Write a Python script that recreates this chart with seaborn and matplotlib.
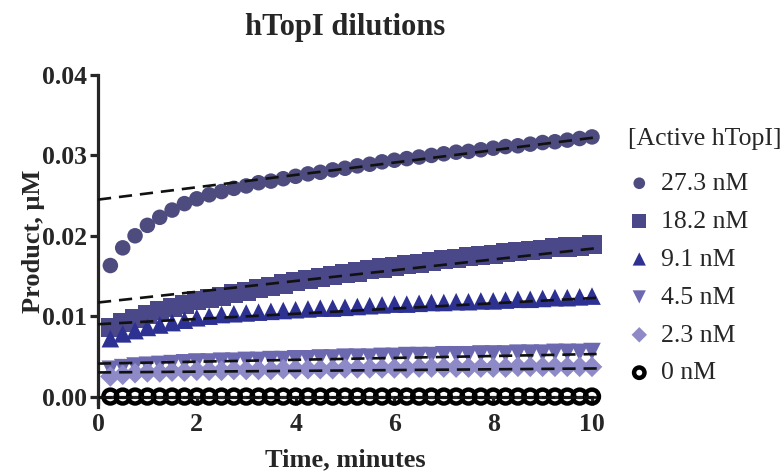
import matplotlib
matplotlib.use("Agg")
import matplotlib.pyplot as plt
import seaborn as sns
import pandas as pd

# --- DATA ---
time_min = [0.25, 0.5, 0.75, 1.0, 1.25, 1.5, 1.75, 2.0, 2.25, 2.5,
            2.75, 3.0, 3.25, 3.5, 3.75, 4.0, 4.25, 4.5, 4.75, 5.0,
            5.25, 5.5, 5.75, 6.0, 6.25, 6.5, 6.75, 7.0, 7.25, 7.5,
            7.75, 8.0, 8.25, 8.5, 8.75, 9.0, 9.25, 9.5, 9.75, 10.0]

conc_labels = ["27.3 nM", "18.2 nM", "9.1 nM", "4.5 nM", "2.3 nM", "0 nM"]

prod_27 = [0.0163, 0.0185, 0.0200, 0.0213, 0.0223, 0.0232, 0.0240, 0.0246, 0.0251, 0.0255,
           0.0259, 0.0262, 0.0266, 0.0268, 0.0271, 0.0274, 0.0277, 0.0279, 0.0282, 0.0284,
           0.0287, 0.0289, 0.0292, 0.0294, 0.0296, 0.0298, 0.0300, 0.0302, 0.0304, 0.0305,
           0.0307, 0.0309, 0.0311, 0.0312, 0.0314, 0.0316, 0.0317, 0.0319, 0.0321, 0.0323]
prod_18 = [0.0086, 0.0092, 0.0097, 0.0102, 0.0107, 0.0111, 0.0115, 0.0119, 0.0122, 0.0125,
           0.0128, 0.0131, 0.0134, 0.0137, 0.0140, 0.0143, 0.0146, 0.0148, 0.0151, 0.0153,
           0.0155, 0.0158, 0.0160, 0.0162, 0.0164, 0.0166, 0.0168, 0.0170, 0.0172, 0.0174,
           0.0175, 0.0177, 0.0179, 0.0180, 0.0182, 0.0183, 0.0185, 0.0186, 0.0187, 0.0189]
prod_9 = [0.0072, 0.0078, 0.0082, 0.0086, 0.0089, 0.0092, 0.0095, 0.0098, 0.0100, 0.0102,
          0.0103, 0.0104, 0.0105, 0.0106, 0.0107, 0.0108, 0.0109, 0.0110, 0.0110, 0.0111,
          0.0112, 0.0113, 0.0114, 0.0115, 0.0115, 0.0116, 0.0117, 0.0117, 0.0118, 0.0118,
          0.0119, 0.0119, 0.0120, 0.0121, 0.0121, 0.0122, 0.0123, 0.0123, 0.0124, 0.0125]
prod_4 = [0.0034, 0.0036, 0.0038, 0.0039, 0.0040, 0.0041, 0.0042, 0.0043, 0.0043, 0.0044,
          0.0044, 0.0045, 0.0045, 0.0046, 0.0046, 0.0047, 0.0047, 0.0048, 0.0048, 0.0049,
          0.0049, 0.0049, 0.0050, 0.0050, 0.0051, 0.0051, 0.0051, 0.0052, 0.0052, 0.0052,
          0.0053, 0.0053, 0.0053, 0.0054, 0.0054, 0.0054, 0.0055, 0.0055, 0.0055, 0.0056]
prod_2 = [0.0025, 0.0027, 0.0029, 0.0030, 0.0030, 0.0031, 0.0031, 0.0032, 0.0032, 0.0032,
          0.0033, 0.0033, 0.0033, 0.0033, 0.0034, 0.0034, 0.0034, 0.0034, 0.0034, 0.0035,
          0.0035, 0.0035, 0.0035, 0.0035, 0.0035, 0.0036, 0.0036, 0.0036, 0.0036, 0.0036,
          0.0036, 0.0036, 0.0036, 0.0037, 0.0037, 0.0037, 0.0037, 0.0037, 0.0037, 0.0037]
prod_0 = [0.0] * 40

# linear fits (value at x=0 and at the right end of the fit line)
fit_x = [0.0, 10.15]
fit_start = [0.0245, 0.0117, 0.0090, 0.0041, 0.0030, 0.0]
fit_end = [0.0323, 0.0185, 0.0123, 0.0053, 0.0035, 0.0]

series = [prod_27, prod_18, prod_9, prod_4, prod_2, prod_0]
colors = ["#4e4c7e", "#4a4889", "#2d3192", "#6c69b0", "#8e8ac7", "black"]
markers = ["o", "s", "^", "v", "D", "o"]
sizes = [125, 190, 160, 160, 110, 100]

df = pd.DataFrame({
    "time": time_min * len(series),
    "product": [v for s in series for v in s],
    "conc": [c for c in conc_labels for _ in time_min],
})

# --- PLOT ---
sns.set_style("ticks")
plt.rcParams["font.family"] = ["Liberation Serif", "DejaVu Serif"]

fig = plt.figure(figsize=(7.84, 4.73), dpi=100)
ax = fig.add_axes([0.125, 0.1395, 0.6301, 0.7019])

for i, conc in enumerate(conc_labels):
    sub = df[df["conc"] == conc]
    if conc == "0 nM":
        sns.scatterplot(data=sub, x="time", y="product", marker=markers[i], s=sizes[i],
                        facecolors="none", edgecolor=colors[i], linewidth=3.2,
                        label=conc, ax=ax, clip_on=False, zorder=3)
    else:
        sns.scatterplot(data=sub, x="time", y="product", marker=markers[i], s=sizes[i],
                        color=colors[i], edgecolor="none", linewidth=0,
                        label=conc, ax=ax, clip_on=False, zorder=3)

for i in range(len(conc_labels)):
    ax.plot(fit_x, [fit_start[i], fit_end[i]], color="#111111", lw=1.9,
            dashes=(5, 3), clip_on=False, zorder=4)

ax.set_xlim(0, 10)
ax.set_ylim(-0.0013, 0.04)
ax.set_xticks([0, 2, 4, 6, 8, 10])
ax.set_yticks([0.0, 0.01, 0.02, 0.03, 0.04])
ax.set_yticklabels(["0.00", "0.01", "0.02", "0.03", "0.04"])

sns.despine(ax=ax)
ax.spines["bottom"].set_position(("data", 0))
ax.spines["bottom"].set_bounds(0, 10)
for sp in ["left", "bottom"]:
    ax.spines[sp].set_linewidth(2.3)
ax.tick_params(axis="both", direction="out", width=2.3, length=6, labelsize=18.5)
ax.tick_params(axis="x", pad=6)
ax.tick_params(axis="y", pad=2)
for lab in ax.get_xticklabels() + ax.get_yticklabels():
    lab.set_fontweight("bold")

ax.set_xlabel("Time, minutes", fontsize=19, fontweight="bold")
ax.set_ylabel("Product, μM", fontsize=19, fontweight="bold", labelpad=-2)
ax.xaxis.set_label_coords(0.5, -0.125)
fig.text(0.44, 1 - 28 / 473, "hTopI dilutions", ha="center", va="center",
         fontsize=22, fontweight="bold")

fig.text(628 / 784, 1 - 139 / 473, "[Active hTopI]", ha="left", va="center", fontsize=18.5)
leg = ax.legend(loc="upper left", bbox_to_anchor=(629 / 784, 1 - 172 / 473),
                bbox_transform=fig.transFigure, frameon=False, fontsize=18.5,
                handlelength=0.8, handletextpad=0.45, labelspacing=0.58,
                borderpad=0, borderaxespad=0, markerscale=0.75)

fig.savefig("out.png", dpi=100)
